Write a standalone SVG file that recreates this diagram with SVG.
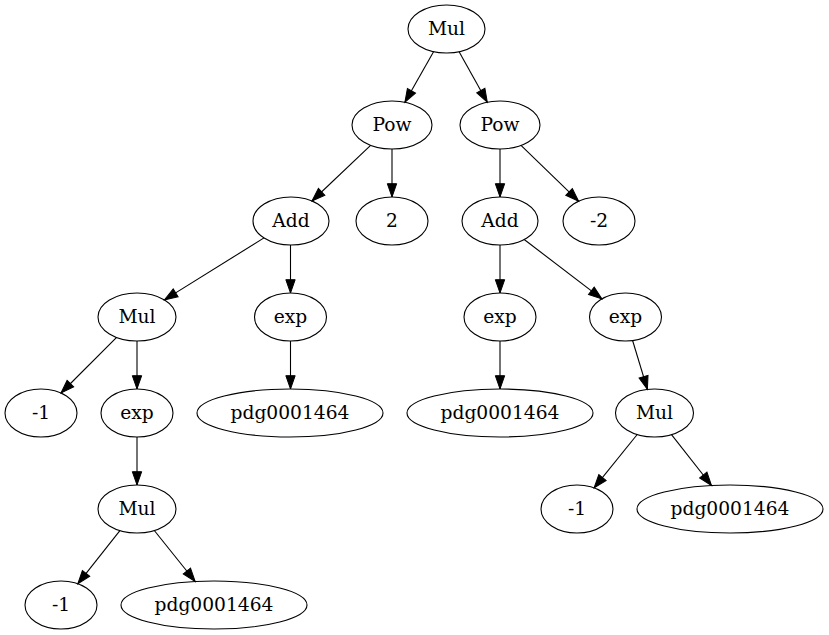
<svg xmlns="http://www.w3.org/2000/svg" width="829" height="635" viewBox="0 0 829 635">
<style>
  .n ellipse { fill: none; stroke: #000; stroke-width: 1.1; }
  .n text { font-family: "DejaVu Serif", "Liberation Serif", serif; font-size: 18.67px; text-anchor: middle; fill: #000; }
  .e line { stroke: #000; stroke-width: 1.1; marker-end: url(#ah); }
</style>
<defs>
  <marker id="ah" markerUnits="userSpaceOnUse" markerWidth="16" markerHeight="12" viewBox="0 -6 14 12" refX="13.3" refY="0" orient="auto">
    <path d="M0,-4.67 L13.3,0 L0,4.67 Z" fill="#000" stroke="#000" stroke-width="1"/>
  </marker>
</defs>
<rect width="829" height="635" fill="#fff"/>
<g id="edges" class="e">
  <line x1="433.7" y1="51.6" x2="404.9" y2="102.3"/>
  <line x1="459.1" y1="51.7" x2="487.3" y2="102.2"/>
  <line x1="370.6" y1="145.3" x2="312.0" y2="201.0"/>
  <line x1="392" y1="149" x2="392" y2="197"/>
  <line x1="500" y1="149" x2="500" y2="197"/>
  <line x1="521.0" y1="145.4" x2="578.6" y2="201.2"/>
  <line x1="264.0" y1="237.9" x2="164.4" y2="299.9"/>
  <line x1="290.5" y1="245" x2="290.5" y2="293"/>
  <line x1="500" y1="245" x2="500" y2="293"/>
  <line x1="524.2" y1="239.5" x2="601.9" y2="298.9"/>
  <line x1="116.6" y1="337.4" x2="61.0" y2="393.0"/>
  <line x1="137" y1="341" x2="137" y2="389"/>
  <line x1="290.5" y1="341" x2="290.5" y2="389"/>
  <line x1="500" y1="341" x2="500" y2="389"/>
  <line x1="632.6" y1="340.5" x2="647.4" y2="389.4"/>
  <line x1="137" y1="437" x2="137" y2="485"/>
  <line x1="637.2" y1="434.5" x2="594.1" y2="487.9"/>
  <line x1="671.5" y1="434.6" x2="711.5" y2="485.5"/>
  <line x1="119.9" y1="530.6" x2="77.8" y2="583.8"/>
  <line x1="154.3" y1="530.5" x2="195.2" y2="581.5"/>
</g>
<g id="n_mul0" class="n"><ellipse cx="446.5" cy="29" rx="38.5" ry="24"/><text x="446.5" y="35">Mul</text></g>
<g id="n_pow1" class="n"><ellipse cx="392" cy="125" rx="40" ry="24"/><text x="392" y="131">Pow</text></g>
<g id="n_pow2" class="n"><ellipse cx="500" cy="125" rx="40" ry="24"/><text x="500" y="131">Pow</text></g>
<g id="n_add1" class="n"><ellipse cx="291" cy="221" rx="38" ry="24"/><text x="291" y="227">Add</text></g>
<g id="n_two" class="n"><ellipse cx="392" cy="221" rx="36" ry="24"/><text x="392" y="227">2</text></g>
<g id="n_add2" class="n"><ellipse cx="500" cy="221" rx="38" ry="24"/><text x="500" y="227">Add</text></g>
<g id="n_m2" class="n"><ellipse cx="599" cy="221" rx="36" ry="24"/><text x="599" y="227">-2</text></g>
<g id="n_mul1" class="n"><ellipse cx="137" cy="317" rx="39" ry="24"/><text x="137" y="323">Mul</text></g>
<g id="n_exp1" class="n"><ellipse cx="290.5" cy="317" rx="36" ry="24"/><text x="290.5" y="323">exp</text></g>
<g id="n_exp2" class="n"><ellipse cx="500" cy="317" rx="36" ry="24"/><text x="500" y="323">exp</text></g>
<g id="n_exp3" class="n"><ellipse cx="625.5" cy="317" rx="36" ry="24"/><text x="625.5" y="323">exp</text></g>
<g id="n_m1a" class="n"><ellipse cx="41" cy="413" rx="36" ry="24"/><text x="41" y="419">-1</text></g>
<g id="n_exp4" class="n"><ellipse cx="137" cy="413" rx="36" ry="24"/><text x="137" y="419">exp</text></g>
<g id="n_pdg1" class="n"><ellipse cx="290" cy="413" rx="93" ry="24"/><text x="290" y="419">pdg0001464</text></g>
<g id="n_pdg2" class="n"><ellipse cx="500" cy="413" rx="93" ry="24"/><text x="500" y="419">pdg0001464</text></g>
<g id="n_mul2" class="n"><ellipse cx="654.5" cy="413" rx="39" ry="24"/><text x="654.5" y="419">Mul</text></g>
<g id="n_mul3" class="n"><ellipse cx="137" cy="509" rx="39" ry="24"/><text x="137" y="515">Mul</text></g>
<g id="n_m1b" class="n"><ellipse cx="577" cy="509" rx="36" ry="24"/><text x="577" y="515">-1</text></g>
<g id="n_pdg3" class="n"><ellipse cx="730" cy="509" rx="93" ry="24"/><text x="730" y="515">pdg0001464</text></g>
<g id="n_m1c" class="n"><ellipse cx="61" cy="605" rx="36" ry="24"/><text x="61" y="611">-1</text></g>
<g id="n_pdg4" class="n"><ellipse cx="214" cy="605" rx="93" ry="24"/><text x="214" y="611">pdg0001464</text></g>
</svg>
